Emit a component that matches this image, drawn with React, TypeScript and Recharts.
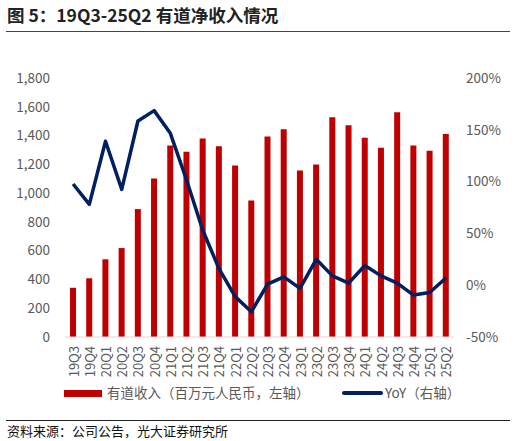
import React from "react";
import { ComposedChart, Bar, Line, XAxis, YAxis } from "recharts";

const quarters = ["19Q3","19Q4","20Q1","20Q2","20Q3","20Q4","21Q1","21Q2","21Q3","21Q4","22Q1","22Q2","22Q3","22Q4","23Q1","23Q2","23Q3","23Q4","24Q1","24Q2","24Q3","24Q4","25Q1","25Q2"];
const revenue = [342,408,540,618,889,1102,1331,1287,1380,1326,1192,949,1394,1444,1157,1199,1528,1472,1384,1315,1562,1331,1294,1410];
const yoy = [97.7,78,139,92.5,158.5,168.5,146.6,101.5,53,16,-11,-25.6,1,8,-3,25,9,2,19,9,2,-9.5,-7,7];
const leftTicks = [0,200,400,600,800,1000,1200,1400,1600,1800];
const rightTicks = [-50,0,50,100,150,200];

const data = quarters.map((q, i) => ({ q, revenue: revenue[i], yoy: yoy[i] }));

const FONT = '"Noto Sans CJK SC", "Noto Sans", sans-serif';
const GRAY = "#595959";

const XTick = (props: any) => {
  const { x, y, payload } = props;
  return (
    <text
      x={x}
      y={y}
      transform={`rotate(-90, ${x}, ${y})`}
      textAnchor="end"
      dominantBaseline="central"
      fill={GRAY}
      fontSize={13}
      fontFamily={FONT}
    >
      {payload.value}
    </text>
  );
};

export default function App() {
  return (
    <div style={{ position: "absolute", left: 0, top: 0, width: 516, height: 441, background: "#fff", fontFamily: FONT }}>
      <div style={{ position: "absolute", left: 7, top: 4, fontSize: 17.5, fontWeight: 700, color: "#222", whiteSpace: "nowrap", lineHeight: "22px" }}>
        图 5：19Q3-25Q2 有道净收入情况
      </div>
      <div style={{ position: "absolute", left: 6, top: 31, width: 504, height: 0, borderTop: "1.5px solid #444" }} />
      <div style={{ position: "absolute", left: 0, top: 0 }}>
        <ComposedChart
          width={516}
          height={441}
          data={data}
          margin={{ top: 78, bottom: 54, left: 5, right: 2 }}
          barCategoryGap={0}
        >
          <XAxis
            dataKey="q"
            interval={0}
            tickLine={false}
            axisLine={{ stroke: "#D9D9D9", strokeWidth: 1 }}
            tick={<XTick />}
            tickMargin={9}
            tickSize={0}
            height={50}
          />
          <YAxis
            yAxisId="left"
            domain={[0, 1800]}
            ticks={leftTicks}
            tickFormatter={(v: number) => v.toLocaleString("en-US")}
            axisLine={false}
            tickLine={false}
            tickSize={0}
            tickMargin={15}
            width={60}
            tick={{ fill: GRAY, fontSize: 13.5, fontFamily: FONT }}
          />
          <YAxis
            yAxisId="right"
            orientation="right"
            domain={[-50, 200]}
            ticks={rightTicks}
            tickFormatter={(v: number) => `${v}%`}
            axisLine={false}
            tickLine={false}
            tickSize={0}
            tickMargin={12}
            width={60}
            tick={{ fill: GRAY, fontSize: 13.5, fontFamily: FONT, textAnchor: "start" }}
          />
          <Bar yAxisId="left" dataKey="revenue" fill="#C00000" barSize={6} isAnimationActive={false} />
          <Line
            yAxisId="right"
            dataKey="yoy"
            type="linear"
            stroke="#002060"
            strokeWidth={3.5}
            strokeLinejoin="round"
            dot={false}
            isAnimationActive={false}
          />
        </ComposedChart>
      </div>
      <div style={{ position: "absolute", left: 64, top: 390, width: 38, height: 7, background: "#C00000" }} />
      <div style={{ position: "absolute", left: 107, top: 383, fontSize: 13.5, color: GRAY, whiteSpace: "nowrap", lineHeight: "18px" }}>
        有道收入（百万元人民币，左轴）
      </div>
      <div style={{ position: "absolute", left: 342, top: 391, width: 41, height: 3.5, background: "#002060", borderRadius: 2 }} />
      <div style={{ position: "absolute", left: 385, top: 383, fontSize: 13.5, color: GRAY, whiteSpace: "nowrap", lineHeight: "18px" }}>
        YoY（右轴）
      </div>
      <div style={{ position: "absolute", left: 6, top: 420, width: 504, height: 0, borderTop: "1px solid #222" }} />
      <div style={{ position: "absolute", left: 7, top: 422, fontSize: 13, color: "#111", whiteSpace: "nowrap", lineHeight: "18px" }}>
        资料来源：公司公告，光大证券研究所
      </div>
    </div>
  );
}
